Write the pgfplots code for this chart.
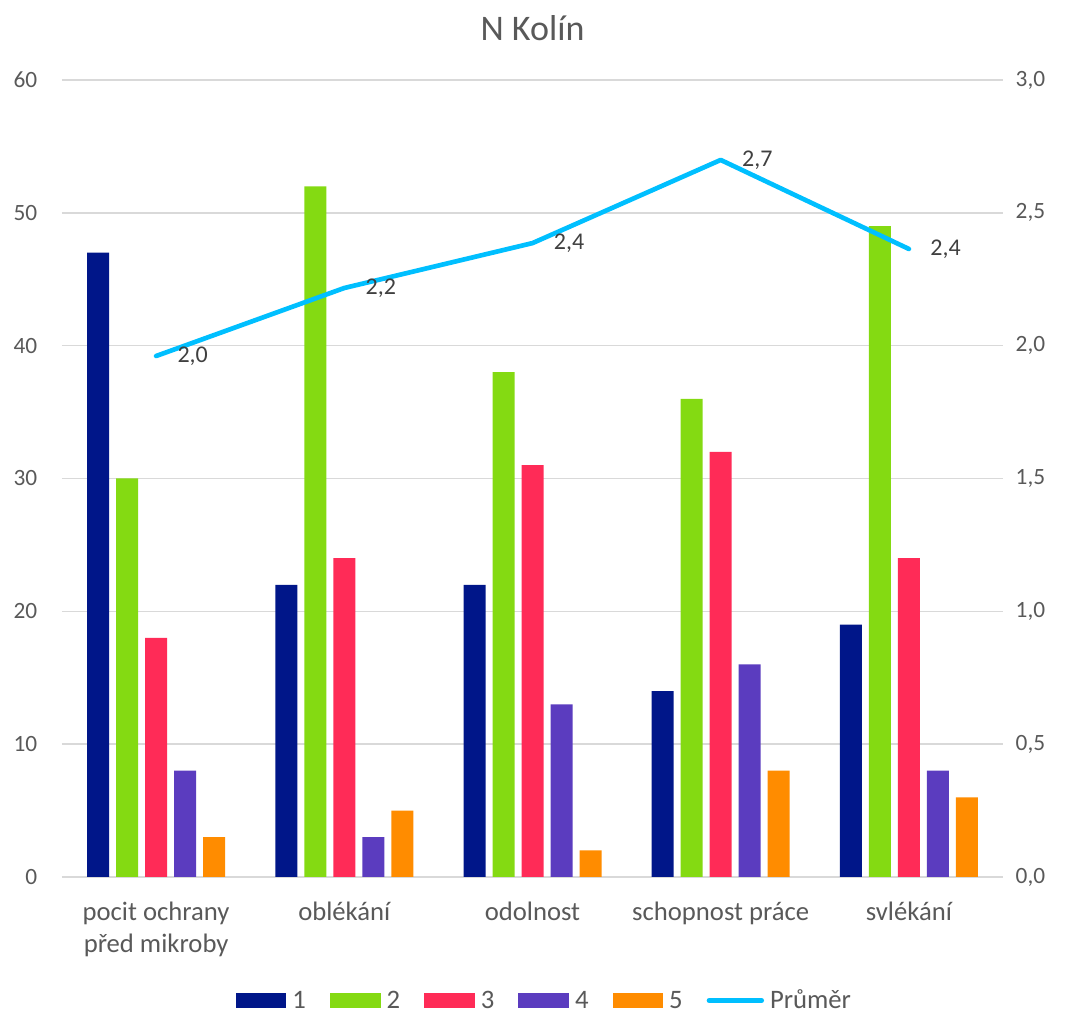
\documentclass[border=0pt]{standalone}
\usepackage{fontspec}
\setmainfont{Carlito}
\usepackage{pgfplots}
\pgfplotsset{compat=1.18}
\definecolor{cA}{RGB}{0,22,137}
\definecolor{cB}{RGB}{132,218,18}
\definecolor{cC}{RGB}{255,43,87}
\definecolor{cD}{RGB}{91,60,191}
\definecolor{cE}{RGB}{255,140,0}
\definecolor{cL}{RGB}{0,191,255}
\definecolor{gridc}{RGB}{217,217,217}
\definecolor{txt}{RGB}{89,89,89}
\definecolor{dtxt}{RGB}{64,64,64}
\pgfplotsset{
  barleg/.style={legend image code/.code={\fill[##1,draw=none] (0pt,-5.6pt) rectangle (38pt,5.6pt);}}
}
\begin{document}
\begin{tikzpicture}
\begin{axis}[
  scale only axis, width=705.75pt, height=597.75pt,
  ybar, bar width=16.5pt,
  xmin=-0.5, xmax=4.5, ymin=0, ymax=60,
  xtick={0,1,2,3,4},
  xticklabels={{pocit ochrany\\před mikroby},oblékání,odolnost,schopnost práce,svlékání},
  ytick={0,10,...,60},
  axis line style={draw=none},
  major tick length=0pt,
  ymajorgrids, grid style={gridc, line width=1.1pt},
  /pgf/number format/assume math mode=true,
  yticklabel style={font=\fontsize{17.5}{20}\selectfont, text=txt, anchor=east, xshift=-15pt},
  xticklabel style={font=\fontsize{20}{24.5}\selectfont, text=txt, anchor=north, align=center, yshift=-15pt},
  title={N Kolín},
  title style={at={(0.5,1)}, anchor=center, yshift=33pt, font=\fontsize{27}{32}\selectfont, text=txt},
  legend style={at={(0.513,-0.155)}, anchor=center, draw=none, font=\fontsize{20}{23}\selectfont, text=txt,
    legend columns=6, /tikz/every odd column/.append style={column sep=2.5pt},
    /tikz/every even column/.append style={column sep=16pt}},
]
\addplot[fill=cA, draw=none, bar shift=-43.5pt, barleg] coordinates {(0,47) (1,22) (2,22) (3,14) (4,19)};
\addplot[fill=cB, draw=none, bar shift=-21.75pt, barleg] coordinates {(0,30) (1,52) (2,38) (3,36) (4,49)};
\addplot[fill=cC, draw=none, bar shift=0pt, barleg] coordinates {(0,18) (1,24) (2,31) (3,32) (4,24)};
\addplot[fill=cD, draw=none, bar shift=21.75pt, barleg] coordinates {(0,8) (1,3) (2,13) (3,16) (4,8)};
\addplot[fill=cE, draw=none, bar shift=43.5pt, barleg] coordinates {(0,3) (1,5) (2,2) (3,8) (4,6)};
\addlegendentry{1}
\addlegendentry{2}
\addlegendentry{3}
\addlegendentry{4}
\addlegendentry{5}
\addlegendimage{legend image code/.code={\draw[cL, line width=3.5pt, line cap=round] (1.5pt,0pt) -- (41pt,0pt);}}
\addlegendentry{Průměr}
\end{axis}
\begin{axis}[
  scale only axis, width=705.75pt, height=597.75pt,
  xmin=-0.5, xmax=4.5, ymin=0, ymax=3,
  xtick=\empty,
  ytick={0,0.5,...,3},
  axis line style={draw=none},
  major tick length=0pt,
  yticklabel pos=right,
  /pgf/number format/assume math mode=true,
  /pgf/number format/use comma, /pgf/number format/fixed, /pgf/number format/fixed zerofill, /pgf/number format/precision=1,
  yticklabel style={font=\fontsize{17.5}{20}\selectfont, text=txt, anchor=west, xshift=6pt},
]
\addplot[cL, line width=3.5pt, line cap=round, line join=round, mark=none,
  nodes near coords, point meta=y,
  nodes near coords style={anchor=west, xshift=11pt, font=\fontsize{18}{21}\selectfont, text=dtxt,
    /pgf/number format/assume math mode=true, /pgf/number format/use comma, /pgf/number format/fixed, /pgf/number format/fixed zerofill, /pgf/number format/precision=1}]
  coordinates {(0,1.961) (1,2.217) (2,2.386) (3,2.699) (4,2.364)};
\end{axis}
\pgfresetboundingbox
\path (-46.5pt,-104.25pt) rectangle (752.25pt,657.75pt);
\end{tikzpicture}
\end{document}
